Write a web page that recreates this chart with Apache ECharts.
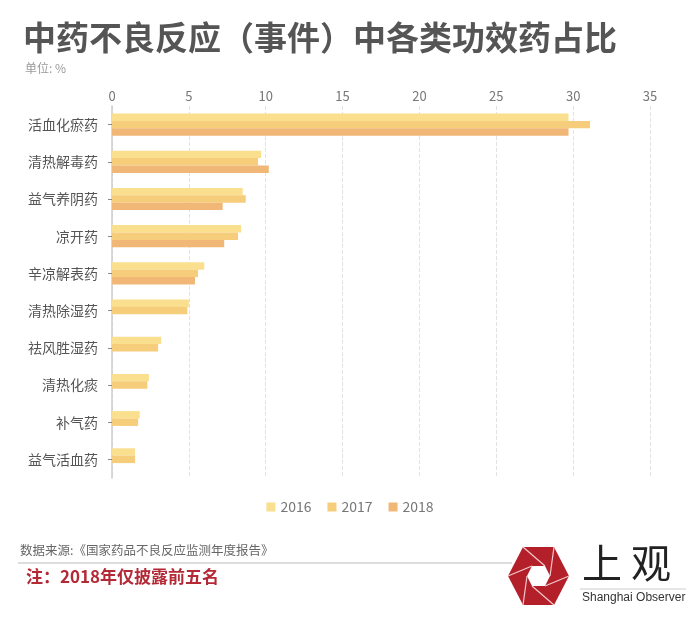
<!DOCTYPE html>
<html><head><meta charset="utf-8">
<script src="https://cdn.jsdelivr.net/npm/echarts@6/dist/echarts.min.js"></script>
<style>html,body{margin:0;padding:0;background:#fff}#c{width:700px;height:626px}</style>
</head><body><div id="c"></div>
<script>
const categories = ['活血化瘀药','清热解毒药','益气养阴药','凉开药','辛凉解表药','清热除湿药','祛风胜湿药','清热化痰','补气药','益气活血药'];
const years = ['2016','2017','2018'];
const v2016 = [29.7, 9.7, 8.5, 8.4, 6.0, 5.0, 3.2, 2.4, 1.8, 1.5];
const v2017 = [31.1, 9.5, 8.7, 8.2, 5.6, 4.9, 3.0, 2.3, 1.7, 1.5];
const v2018 = [29.7, 10.2, 7.2, 7.3, 5.4, null, null, null, null, null];
const xTicks = {min: 0, max: 35, interval: 5};

const colors = ['#f9df8e', '#f6cd7a', '#f0b777'];
const chart = echarts.init(document.getElementById('c'));
const font = '"Noto Sans CJK SC", "Noto Sans", sans-serif';
chart.setOption({
  animation: false,
  textStyle: {fontFamily: font},
  title: [
    {text: '中药不良反应（事件）中各类功效药占比', left: 18, top: 16,
     textStyle: {fontSize: 33, fontWeight: 'bold', color: '#555', fontFamily: font}},
    {text: '单位: %', left: 20, top: 57, textStyle: {fontSize: 12, fontWeight: 'normal', color: '#999', fontFamily: font}}
  ],
  legend: {
    data: years, bottom: 107, left: 'center', itemWidth: 9, itemHeight: 9, icon: 'rect', itemGap: 16,
    textStyle: {fontSize: 14, color: '#777', fontFamily: font}
  },
  grid: {left: 112, right: 50, top: 106, bottom: 148},
  xAxis: {
    type: 'value', position: 'top', min: xTicks.min, max: xTicks.max, interval: xTicks.interval,
    axisLine: {show: false}, axisTick: {show: false},
    axisLabel: {fontSize: 13, color: '#777', margin: 3},
    splitLine: {show: true, lineStyle: {type: 'dashed', color: '#e2e2e2'}}
  },
  yAxis: {
    type: 'category', data: categories, inverse: true,
    axisLine: {show: true, lineStyle: {color: '#ccc', width: 1.5}},
    axisTick: {show: true, length: 4, alignWithLabel: true, lineStyle: {color: '#888'}},
    axisLabel: {fontSize: 14, color: '#555', margin: 14}
  },
  series: [
    {name: '2016', type: 'bar', data: v2016, itemStyle: {color: colors[0]}, barWidth: 7.4, barGap: '0%'},
    {name: '2017', type: 'bar', data: v2017, itemStyle: {color: colors[1]}, barWidth: 7.4, barGap: '0%'},
    {name: '2018', type: 'bar', data: v2018, itemStyle: {color: colors[2]}, barWidth: 7.4, barGap: '0%'}
  ],
  graphic: [
    {type: 'text', left: 20, top: 544, style: {text: '数据来源:《国家药品不良反应监测年度报告》', fontSize: 12.5, fill: '#666', fontFamily: font}},
    {type: 'line', shape: {x1: 18, y1: 563, x2: 512, y2: 563}, style: {stroke: '#ddd', lineWidth: 2}},
    {type: 'text', left: 26, top: 568, style: {text: '注：2018年仅披露前五名', fontSize: 17, fontWeight: 'bold', fill: '#b32a36', fontFamily: '"Noto Sans CJK SC", serif'}},
    {type: 'polygon', shape: {points: [[508,576],[523,547],[554,547],[569,576],[554,605],[523,605]]}, style: {fill: '#b3202a'}},
    {type: 'polygon', shape: {points: [[527,576],[532,566],[545,566],[550,576],[545,586],[532,586]]}, style: {fill: '#fff'}},
    {type: 'line', shape: {x1: 523, y1: 547, x2: 545, y2: 566}, style: {stroke: '#f3c9cc', lineWidth: 1.2}},
    {type: 'line', shape: {x1: 569, y1: 576, x2: 545, y2: 586}, style: {stroke: '#f3c9cc', lineWidth: 1.2}},
    {type: 'line', shape: {x1: 523, y1: 605, x2: 527, y2: 576}, style: {stroke: '#f3c9cc', lineWidth: 1.2}},
    {type: 'line', shape: {x1: 508, y1: 576, x2: 532, y2: 566}, style: {stroke: '#f3c9cc', lineWidth: 1.2}},
    {type: 'line', shape: {x1: 554, y1: 547, x2: 550, y2: 576}, style: {stroke: '#f3c9cc', lineWidth: 1.2}},
    {type: 'line', shape: {x1: 554, y1: 605, x2: 532, y2: 586}, style: {stroke: '#f3c9cc', lineWidth: 1.2}},
    {type: 'text', left: 582, top: 543, style: {text: '上 观', fontSize: 40, fill: '#222', fontFamily: '"Noto Sans CJK SC", sans-serif'}},
    {type: 'line', shape: {x1: 580, y1: 589, x2: 686, y2: 589}, style: {stroke: '#ccc', lineWidth: 1}},
    {type: 'text', left: 582, top: 592, style: {text: 'Shanghai Observer', fontSize: 12, fill: '#333', fontFamily: '"Liberation Sans", Arial, sans-serif'}}
  ]
});
</script></body></html>
